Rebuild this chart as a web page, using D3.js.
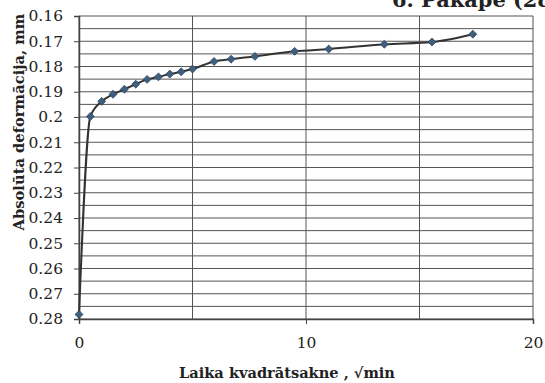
<!DOCTYPE html>
<html>
<head>
<meta charset="utf-8">
<script src="https://cdn.jsdelivr.net/npm/d3@7"></script>
<style>
  body { margin: 0; background: #fff; }
  svg text { font-family: "DejaVu Serif", "Liberation Serif", serif; fill: #222; }
</style>
</head>
<body>
<svg id="chart" width="545" height="383"></svg>
<script>
// Data: time (sqrt of minutes) vs absolute deformation (mm)
var sqrtMinutes = [0, 0.5, 1.0, 1.5, 2.0, 2.5, 3.0, 3.5, 4.0, 4.5, 5.0, 5.95, 6.7, 7.75, 9.5, 11.0, 13.45, 15.55, 17.35];
var deformation = [0.2782, 0.1998, 0.1938, 0.1910, 0.1890, 0.1870, 0.1851, 0.1841, 0.1830, 0.1821, 0.1810, 0.1780, 0.1771, 0.1760, 0.1740, 0.1731, 0.1712, 0.1703, 0.1672];
var xTicks = [0, 10, 20];
var yTicks = [0.16, 0.17, 0.18, 0.19, 0.2, 0.21, 0.22, 0.23, 0.24, 0.25, 0.26, 0.27, 0.28];
var title = "6. Pakāpe (28";

var margin = { top: 16, right: 12, bottom: 64, left: 79 },
    width = 545 - margin.left - margin.right,
    height = 383 - margin.top - margin.bottom;

var svg = d3.select("#chart");
var g = svg.append("g")
    .attr("transform", "translate(" + margin.left + "," + margin.top + ")");

// Define scales
var xScale = d3.scaleLinear().domain([0, 20]).range([0, width]);
var yScale = d3.scaleLinear().domain([0.16, 0.28]).range([0, height]);

// Gridlines (every 5 on x, every 0.005 on y)
g.append("g")
    .selectAll("line")
    .data(d3.range(0, 20.001, 5))
    .enter().append("line")
    .attr("x1", function (d) { return xScale(d); })
    .attr("x2", function (d) { return xScale(d); })
    .attr("y1", 0)
    .attr("y2", height)
    .attr("stroke", "#555")
    .attr("stroke-width", 1);

g.append("g")
    .selectAll("line")
    .data(d3.range(0, 25).map(function (i) { return 0.16 + i * 0.005; }))
    .enter().append("line")
    .attr("x1", 0)
    .attr("x2", width)
    .attr("y1", function (d) { return yScale(d); })
    .attr("y2", function (d) { return yScale(d); })
    .attr("stroke", "#555")
    .attr("stroke-width", 1);

// Axes
var xAxis = d3.axisBottom(xScale).tickValues(xTicks).tickFormat(d3.format("d")).tickSize(5).tickPadding(13);
var yAxis = d3.axisLeft(yScale).tickValues(yTicks)
    .tickFormat(function (d) { return String(+d.toFixed(2)); })
    .tickSize(5).tickPadding(11);

var gx = g.append("g")
    .attr("transform", "translate(0," + height + ")")
    .call(xAxis);
var gy = g.append("g").call(yAxis);

[gx, gy].forEach(function (a) {
    a.select(".domain").attr("stroke", "#444").attr("stroke-width", 1.5);
    a.selectAll(".tick line").attr("stroke", "#444");
    a.selectAll(".tick text")
        .style("font-family", "'DejaVu Serif', serif")
        .style("font-size", "15.5px")
        .attr("fill", "#222");
});

// Line
var line = d3.line()
    .curve(d3.curveMonotoneX)
    .x(function (d) { return xScale(d[0]); })
    .y(function (d) { return yScale(d[1]); });

var points = sqrtMinutes.map(function (x, i) { return [x, deformation[i]]; });

g.append("path")
    .datum(points)
    .attr("d", line)
    .attr("fill", "none")
    .attr("stroke", "#333")
    .attr("stroke-width", 2);

// Diamond markers
g.selectAll(".pt")
    .data(points)
    .enter().append("path")
    .attr("class", "pt")
    .attr("d", d3.symbol().type(d3.symbolDiamond2).size(40))
    .attr("transform", function (d) { return "translate(" + xScale(d[0]) + "," + yScale(d[1]) + ")"; })
    .attr("fill", "#3e5f7e")
    .attr("stroke", "#2c4660")
    .attr("stroke-width", 0.8);

// Shrink or grow a text's font so it spans the wanted width
function fitText(sel, target) {
    var w = sel.node().getComputedTextLength();
    var fs = parseFloat(sel.style("font-size"));
    sel.style("font-size", (fs * target / w).toFixed(2) + "px");
}

// Axis titles
var yTitle = svg.append("text")
    .attr("transform", "rotate(-90)")
    .attr("x", -122)
    .attr("y", 24)
    .style("text-anchor", "middle")
    .style("font-size", "15px")
    .style("font-weight", "bold")
    .text("Absolūta deformācija, mm");
fitText(yTitle, 217);

var xTitle = svg.append("text")
    .attr("x", 287)
    .attr("y", 378)
    .style("text-anchor", "middle")
    .style("font-size", "15px")
    .style("font-weight", "bold")
    .text("Laika kvadrātsakne , √min");
fitText(xTitle, 216);

// Chart title, cut off at the top of the picture
var chartTitle = svg.append("text")
    .attr("x", 392)
    .attr("y", 7)
    .style("font-size", "19px")
    .style("font-weight", "bold")
    .text(title);
fitText(chartTitle, 160);
</script>
</body>
</html>
